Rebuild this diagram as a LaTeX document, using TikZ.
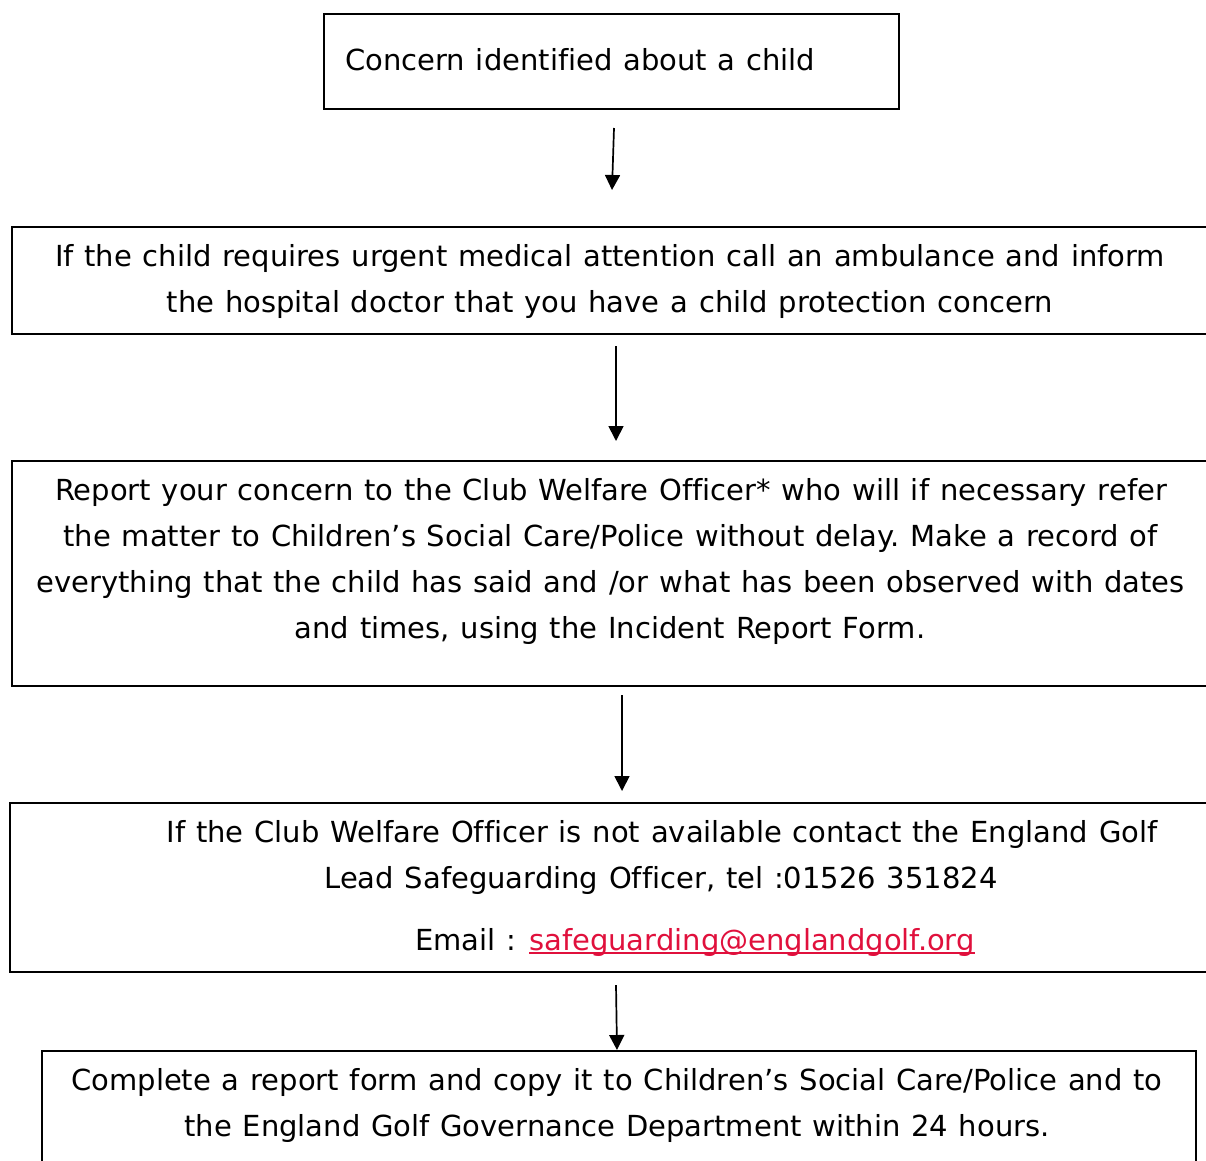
\documentclass[tikz,border=0pt]{standalone}
\usepackage{fontspec}
\setmainfont[Ligatures=NoCommon,WordSpace=1.17]{DejaVu Sans}
\usetikzlibrary{arrows.meta,calc}
\definecolor{linkred}{RGB}{224,16,60}
\tikzset{
  box/.style={draw=black,line width=2.2pt,rectangle,inner sep=0pt,anchor=north west},
  txt/.style={inner sep=0pt,anchor=base,font=\fontsize{29}{46}\selectfont\frenchspacing,text=black},
  arr/.style={line width=1.7pt,-{Triangle[width=15pt,length=15pt]}}
}
\begin{document}
\begin{tikzpicture}[x=1pt,y=-1pt]
\useasboundingbox (0,0) rectangle (1206,1160);
\clip (0,0) rectangle (1206,1160);
% boxes
\node[box,minimum width=575pt,minimum height=95pt] (b1) at (323,13) {};
\node[box,minimum width=1202pt,minimum height=107pt] (b2) at (11,226) {};
\node[box,minimum width=1202pt,minimum height=225pt] (b3) at (11,460) {};
\node[box,minimum width=1204pt,minimum height=169pt] (b4) at (9,802) {};
\node[box,minimum width=1154pt,minimum height=130pt] (b5) at (41,1050) {};
% texts
\node[txt,anchor=base west] (t1) at (345,70) {Concern identified about a child};
\node[txt] (t2a) at (610,266) {If the child requires urgent medical attention call an ambulance and inform};
\node[txt] (t2b) at (610,312) {the hospital doctor that you have a child protection concern};
\node[txt] (t3a) at (611,500) {Report your concern to the Club Welfare Officer* who will if necessary refer};
\node[txt] (t3b) at (610.5,546) {the matter to Children’s Social Care/Police without delay. Make a record of};
\node[txt] (t3c) at (610.5,592) {everything that the child has said and /or what has been observed with dates};
\node[txt] (t3d) at (610,638) {and times, using the Incident Report Form.};
\node[txt] (t4a) at (662,842) {If the Club Welfare Officer is not available contact the England Golf};
\node[txt] (t4b) at (661,888) {Lead Safeguarding Officer, tel :01526 351824};
\node[txt,anchor=base west] (t4c) at (415,950) {Email :};
\node[txt,anchor=base west,text=linkred] (t4d) at (529,950) {safeguarding@englandgolf.org};
\draw[linkred,line width=1.8pt] ($(t4d.base west)+(0,3)$) -- ($(t4d.base east)+(0,3)$);
\node[txt] (t5a) at (617,1090) {Complete a report form and copy it to Children’s Social Care/Police and to};
\node[txt] (t5b) at (617,1136) {the England Golf Governance Department within 24 hours.};
% arrows
\coordinate (a1s) at (614,128);
\coordinate (a1e) at (612,190);
\coordinate (a2s) at (616,346);
\coordinate (a2e) at (616,441);
\coordinate (a3s) at (622,695);
\coordinate (a3e) at (622,791);
\coordinate (a4s) at (616,985);
\coordinate (a4e) at (617,1050);
\draw[arr] (a1s) -- (a1e);
\draw[arr] (a2s) -- (a2e);
\draw[arr] (a3s) -- (a3e);
\draw[arr] (a4s) -- (a4e);
\end{tikzpicture}
\end{document}
